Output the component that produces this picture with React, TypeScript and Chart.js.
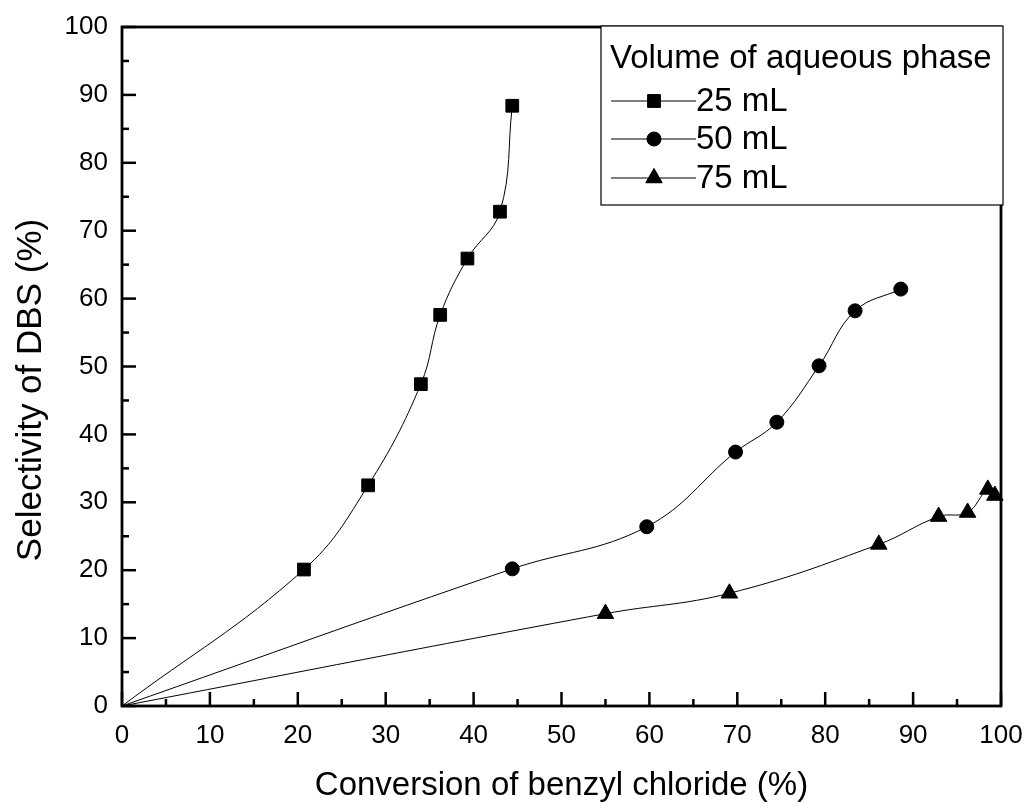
import React, { useEffect, useRef } from 'react';
import { Chart, registerables } from 'chart.js';
import { drawPoint } from 'chart.js/helpers';

Chart.register(...registerables);

// ---- data ----
const seriesLabels = ['25 mL', '50 mL', '75 mL'];
const seriesPointStyles = ['rect', 'circle', 'triangle'];
const seriesPointRadius = [9, 7, 9.5];

const conv25 = [0, 20.7, 28.0, 34.0, 36.2, 39.3, 43.0, 44.4];
const sel25 = [0, 20.1, 32.5, 47.4, 57.6, 65.9, 72.8, 88.4];

const conv50 = [0, 44.4, 59.7, 69.8, 74.5, 79.3, 83.4, 88.6];
const sel50 = [0, 20.2, 26.4, 37.4, 41.8, 50.1, 58.2, 61.4];

const conv75 = [0, 55.0, 69.1, 86.1, 92.9, 96.2, 98.5, 99.3];
const sel75 = [0, 13.6, 16.6, 23.8, 27.9, 28.5, 31.9, 31.0];

const xTickValues = [0, 10, 20, 30, 40, 50, 60, 70, 80, 90, 100];
const yTickValues = [0, 10, 20, 30, 40, 50, 60, 70, 80, 90, 100];
const minorTickValues = [5, 15, 25, 35, 45, 55, 65, 75, 85, 95];

const xTitle = 'Conversion of benzyl chloride (%)';
const yTitle = 'Selectivity of DBS (%)';
const legendTitle = 'Volume of aqueous phase';

const FONT = '"Liberation Sans", Arial, Helvetica, sans-serif';

const allX = [conv25, conv50, conv75];
const allY = [sel25, sel50, sel75];

const framePlugin = {
  id: 'originFrame',
  afterDatasetsDraw(chart: any) {
    const { ctx, chartArea, scales } = chart;
    const { left, right, top, bottom } = chartArea;
    const xs = scales.x;
    const ys = scales.y;
    ctx.save();
    ctx.strokeStyle = '#000';
    ctx.lineWidth = 2.5;
    ctx.lineCap = 'butt';
    // major ticks (inward)
    xTickValues.forEach((v) => {
      const px = xs.getPixelForValue(v);
      ctx.beginPath();
      ctx.moveTo(px, bottom);
      ctx.lineTo(px, bottom - 14);
      ctx.stroke();
    });
    yTickValues.forEach((v) => {
      const py = ys.getPixelForValue(v);
      ctx.beginPath();
      ctx.moveTo(left, py);
      ctx.lineTo(left + 14, py);
      ctx.stroke();
    });
    minorTickValues.forEach((v) => {
      const px = xs.getPixelForValue(v);
      ctx.beginPath();
      ctx.moveTo(px, bottom);
      ctx.lineTo(px, bottom - 7);
      ctx.stroke();
      const py = ys.getPixelForValue(v);
      ctx.beginPath();
      ctx.moveTo(left, py);
      ctx.lineTo(left + 7, py);
      ctx.stroke();
    });
    ctx.lineWidth = 2.8;
    ctx.strokeRect(left, top, right - left, bottom - top);

    // axis titles
    ctx.fillStyle = '#000';
    ctx.textAlign = 'center';
    ctx.textBaseline = 'alphabetic';
    ctx.font = `33px ${FONT}`;
    ctx.fillText(xTitle, (left + right) / 2, 795);
    ctx.save();
    ctx.translate(41, 390);
    ctx.rotate(-Math.PI / 2);
    ctx.font = `35px ${FONT}`;
    ctx.fillText(yTitle, 0, 0);
    ctx.restore();

    // legend box
    const bx = 601, by = 26, bw = 402, bh = 179;
    ctx.fillStyle = '#fff';
    ctx.fillRect(bx, by, bw, bh);
    ctx.lineWidth = 1.2;
    ctx.strokeStyle = '#000';
    ctx.strokeRect(bx, by, bw, bh);
    ctx.fillStyle = '#000';
    ctx.font = `33px ${FONT}`;
    ctx.textBaseline = 'middle';
    ctx.textAlign = 'left';
    ctx.fillText(legendTitle, 610, 59);
    const rowY = [101, 139, 178];
    chart.data.datasets.forEach((ds: any, i: number) => {
      const yy = rowY[i];
      ctx.strokeStyle = '#000';
      ctx.lineWidth = 1;
      ctx.beginPath();
      ctx.moveTo(611, yy);
      ctx.lineTo(696, yy);
      ctx.stroke();
      ctx.fillStyle = '#000';
      drawPoint(ctx, { pointStyle: ds.pointStyle, radius: seriesPointRadius[i], rotation: 0, borderWidth: 1 }, 654, yy);
      ctx.fill();
      ctx.fillStyle = '#000';
      ctx.fillText(ds.label, 696, yy + 1);
    });
    ctx.restore();
  },
};

export default function App() {
  const ref = useRef<HTMLCanvasElement | null>(null);
  useEffect(() => {
    if (!ref.current) return;
    const datasets = seriesLabels.map((label, i) => ({
      label,
      data: allX[i].map((xv, j) => ({ x: xv, y: allY[i][j] })),
      borderColor: '#000',
      backgroundColor: '#000',
      borderWidth: 1,
      pointStyle: seriesPointStyles[i],
      pointRadius: allX[i].map((_, j) => (j === 0 ? 0 : seriesPointRadius[i])),
      pointHoverRadius: 0,
      pointBorderWidth: 1,
      pointBackgroundColor: '#000',
      pointBorderColor: '#000',
      tension: 0.4,
      showLine: true,
      clip: false,
    }));
    const chart = new Chart(ref.current, {
      type: 'scatter',
      data: { datasets } as any,
      plugins: [framePlugin],
      options: {
        responsive: false,
        animation: false,
        layout: { padding: { top: 27, right: 28, left: 0, bottom: 0 } },
        plugins: { legend: { display: false }, tooltip: { enabled: false } },
        scales: {
          x: {
            type: 'linear',
            min: 0,
            max: 100,
            afterFit: (s: any) => { s.height = 97; s.paddingLeft = 0; s.paddingRight = 0; },
            afterBuildTicks: (s: any) => { s.ticks = xTickValues.map((v) => ({ value: v })); },
            grid: { display: false, drawTicks: false },
            border: { display: false },
            ticks: { color: '#000', font: { family: FONT, size: 26 }, padding: 14, maxRotation: 0, autoSkip: false },
            title: { display: false },
          },
          y: {
            type: 'linear',
            min: 0,
            max: 100,
            afterFit: (s: any) => { s.width = 122; s.paddingTop = 0; s.paddingBottom = 0; },
            afterBuildTicks: (s: any) => { s.ticks = yTickValues.map((v) => ({ value: v })); },
            grid: { display: false, drawTicks: false },
            border: { display: false },
            ticks: { color: '#000', font: { family: FONT, size: 26 }, padding: 14, autoSkip: false },
            title: { display: false },
          },
        },
      } as any,
    });
    return () => chart.destroy();
  }, []);
  return (
    <div style={{ position: 'absolute', left: 0, top: 0, width: 1029, height: 803, background: '#fff' }}>
      <canvas ref={ref} width={1029} height={803} style={{ display: 'block' }} />
    </div>
  );
}
